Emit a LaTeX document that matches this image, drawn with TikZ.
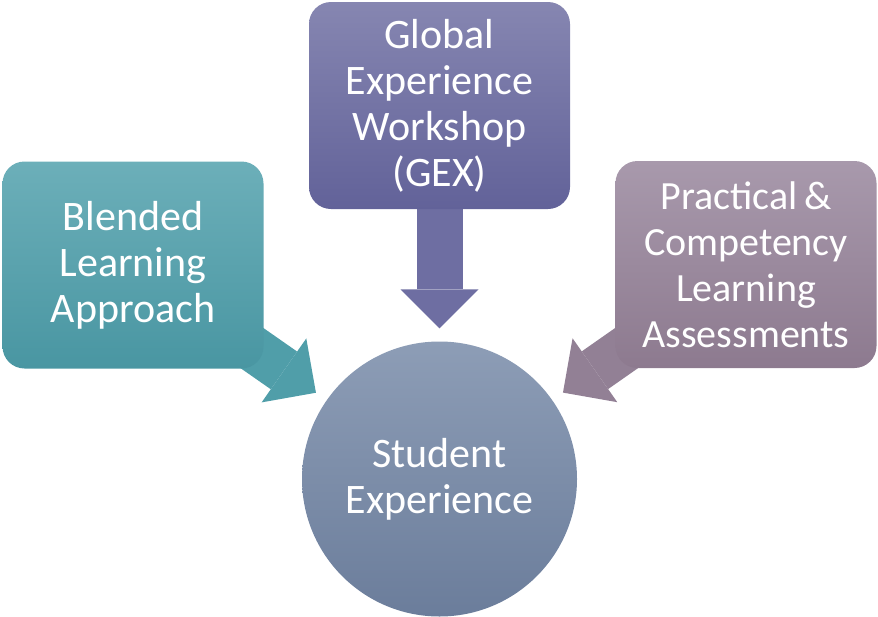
\documentclass[tikz,border=0pt]{standalone}
\usepackage{fontspec}
\setmainfont{Carlito}
\usepackage{tikz}
\usetikzlibrary{arrows.meta,backgrounds,positioning}
\definecolor{tealtop}{RGB}{108,175,185}
\definecolor{tealbot}{RGB}{73,150,162}
\definecolor{tealarr}{RGB}{80,158,169}
\definecolor{violettop}{RGB}{134,134,177}
\definecolor{violetbot}{RGB}{98,98,153}
\definecolor{violetarr}{RGB}{110,110,162}
\definecolor{mauvetop}{RGB}{168,153,172}
\definecolor{mauvebot}{RGB}{141,122,143}
\definecolor{mauvearr}{RGB}{146,128,149}
\definecolor{hubtop}{RGB}{141,157,182}
\definecolor{hubbot}{RGB}{107,125,155}
\tikzset
{
    boxnode/.style   = {rectangle, rounded corners=22pt, align=center, minimum width=261pt, minimum height=207pt, inner sep=0pt, text=white, font=\fontsize{42}{46}\selectfont},
    hubnode/.style   = {circle, align=center, minimum size=275pt, inner sep=0pt, text=white, font=\fontsize{42}{46}\selectfont},
    blockarrow/.style = {line width=46pt, -{Triangle[width=78pt,length=39pt,line width=0pt]}, shorten >=13pt}
}

\begin{document}
\begin{tikzpicture}[x=1pt, y=-1pt]
    \useasboundingbox (0,0) rectangle (878,616);
    \node [boxnode, top color=tealtop, bottom color=tealbot] (blended) at (133,265) {Blended \\ Learning \\ Approach};
    \node [boxnode, top color=violettop, bottom color=violetbot] (gex) at (439.5,105.5) {Global \\ Experience \\ Workshop \\ (GEX)};
    \node [boxnode, top color=mauvetop, bottom color=mauvebot, font=\fontsize{40}{46}\selectfont] (practical) at (746,264.5) {Practical\,\& \\ Competency \\ Learning \\ Assessments};
    \node [hubnode, top color=hubtop, bottom color=hubbot] (student) at (439.5,479) {Student \\ Experience};
    \begin{scope}[on background layer]
        \draw [blockarrow, tealarr] (blended.center) -- (student);
        \draw [blockarrow, violetarr] (gex.center) -- (student);
        \draw [blockarrow, mauvearr] (practical.center) -- (student);
    \end{scope}
\end{tikzpicture}
\end{document}
